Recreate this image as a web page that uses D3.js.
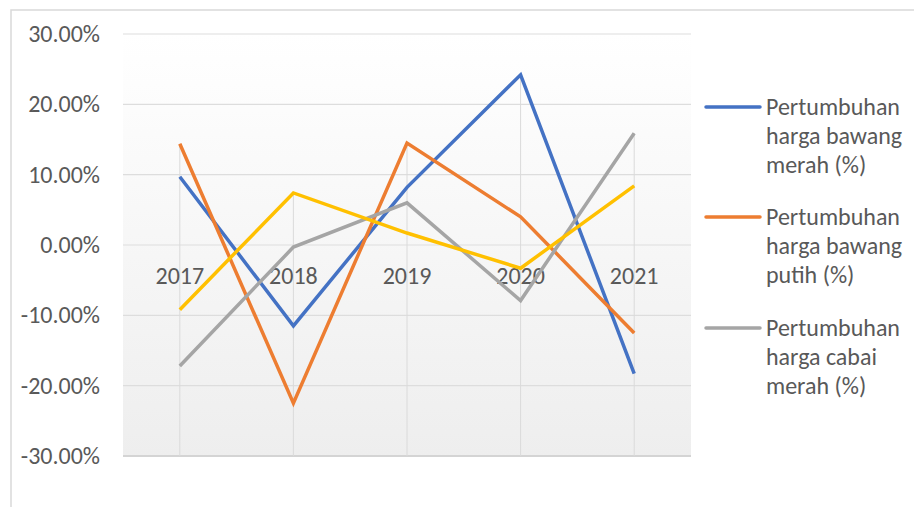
<!DOCTYPE html>
<html lang="id">
<head>
    <meta charset="UTF-8">
    <title>Pertumbuhan harga</title>
    <script src="https://d3js.org/d3.v7.min.js"></script>
    <style>
        body { margin: 0; background: #fff; }
        text { font-family: Carlito, "Open Sans", sans-serif; fill: #595959; font-size: 24px; }
    </style>
</head>
<body>
    <div id="chart"></div>
    <script>
        // data (percent)
        const years = ["2017", "2018", "2019", "2020", "2021"];
        const bawangMerah = [9.7, -11.5, 8.2, 24.2, -18.3];
        const bawangPutih = [14.4, -22.5, 14.5, 4.0, -12.5];
        const cabaiMerah = [-17.2, -0.3, 6.0, -7.9, 15.9];
        const seriesKeempat = [-9.2, 7.4, 1.7, -3.3, 8.4];
        const yTicks = [30, 20, 10, 0, -10, -20, -30];

        const series = [
            { lines: ["Pertumbuhan", "harga bawang", "merah (%)"], values: bawangMerah, color: "#4472C4", legend: true },
            { lines: ["Pertumbuhan", "harga bawang", "putih (%)"], values: bawangPutih, color: "#ED7D31", legend: true },
            { lines: ["Pertumbuhan", "harga cabai", "merah (%)"], values: cabaiMerah, color: "#A5A5A5", legend: true },
            { lines: [], values: seriesKeempat, color: "#FFC000", legend: false }
        ];

        const width = 914, height = 507;
        const plot = { left: 123, right: 691, top: 34, bottom: 456 };

        const svg = d3.select("#chart").append("svg")
            .attr("width", width)
            .attr("height", height);

        const grad = svg.append("defs").append("linearGradient")
            .attr("id", "bg")
            .attr("x1", 0).attr("y1", 0).attr("x2", 0).attr("y2", 1);
        grad.append("stop").attr("offset", "0%").attr("stop-color", "#ffffff");
        grad.append("stop").attr("offset", "100%").attr("stop-color", "#eeeeee");

        // chart border
        svg.append("rect")
            .attr("x", 11).attr("y", 10)
            .attr("width", 1000).attr("height", 600)
            .attr("fill", "none")
            .attr("stroke", "#d9d9d9")
            .attr("stroke-width", 1.5);

        const x = d3.scaleBand().domain(years).range([plot.left, plot.right]);
        const y = d3.scaleLinear().domain([-30, 30]).range([plot.bottom, plot.top]);
        const cx = d => x(d) + x.bandwidth() / 2;

        svg.append("rect")
            .attr("x", plot.left).attr("y", plot.top)
            .attr("width", plot.right - plot.left)
            .attr("height", plot.bottom - plot.top)
            .attr("fill", "url(#bg)");

        // horizontal gridlines
        svg.append("g").selectAll("line")
            .data(yTicks)
            .enter().append("line")
            .attr("x1", plot.left).attr("x2", plot.right)
            .attr("y1", d => y(d)).attr("y2", d => y(d))
            .attr("stroke", d => d === -30 ? "#d4d4d4" : "#dddddd")
            .attr("stroke-width", d => d === -30 ? 2 : 1.2);

        // y labels
        svg.append("g").selectAll("text")
            .data(yTicks)
            .enter().append("text")
            .attr("x", 100)
            .attr("y", d => y(d))
            .attr("dy", "0.34em")
            .attr("text-anchor", "end")
            .text(d => d.toFixed(2) + "%");

        // drop lines from highest point down to the bottom
        const maxPerYear = years.map((yr, i) => d3.max(series, s => s.values[i]));
        svg.append("g").selectAll("line")
            .data(years)
            .enter().append("line")
            .attr("x1", d => cx(d)).attr("x2", d => cx(d))
            .attr("y1", (d, i) => y(maxPerYear[i]))
            .attr("y2", plot.bottom)
            .attr("stroke", "#dadada")
            .attr("stroke-width", 1);

        // category labels near the zero line
        svg.append("g").selectAll("text")
            .data(years)
            .enter().append("text")
            .attr("x", d => cx(d))
            .attr("y", y(0) + 31)
            .attr("dy", "0.34em")
            .attr("text-anchor", "middle")
            .text(d => d);

        const line = d3.line()
            .x((d, i) => cx(years[i]))
            .y(d => y(d));

        svg.append("g").selectAll("path")
            .data(series)
            .enter().append("path")
            .attr("d", d => line(d.values))
            .attr("fill", "none")
            .attr("stroke", d => d.color)
            .attr("stroke-width", 3.5);

        // legend
        const legendTops = [107, 217, 328];
        const legend = svg.append("g").selectAll("g")
            .data(series.filter(s => s.legend))
            .enter().append("g")
            .attr("transform", (d, i) => `translate(706,${legendTops[i]})`);

        legend.append("line")
            .attr("x1", 0).attr("x2", 54)
            .attr("y1", 0).attr("y2", 0)
            .attr("stroke", d => d.color)
            .attr("stroke-width", 3.5)
            .attr("stroke-linecap", "round");

        legend.selectAll("text")
            .data(d => d.lines)
            .enter().append("text")
            .attr("x", 60)
            .attr("y", (d, i) => i * 29)
            .attr("dy", "0.34em")
            .text(d => d);
    </script>
</body>
</html>
